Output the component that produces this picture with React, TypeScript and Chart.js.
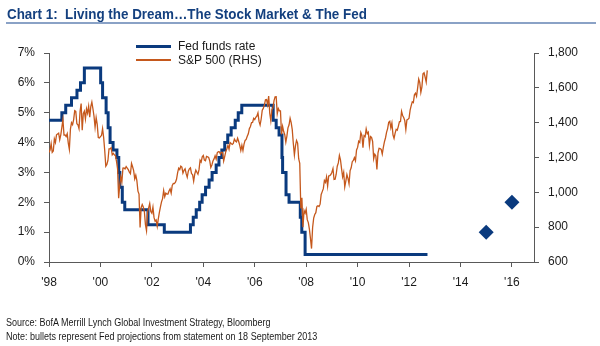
import React, { useEffect, useRef } from 'react';
import { Chart, registerables } from 'chart.js';

Chart.register(...registerables);

// X axis: months since Jan 1999 (the chart labels this point '98)
const xTickLabels = ["'98", "'00", "'02", "'04", "'06", "'08", "'10", "'12", "'14", "'16"];
const xTickStepMonths = 24;
const xMaxMonths = 226.3;

// Fed funds target rate: change points (months since Jan 1999) and levels (%)
const fedMonths = [
  0, 6.0, 7.8, 10.5, 13.05, 14.7, 16.5,
  24.1, 25.0, 26.65, 27.6, 28.5, 29.9, 31.7, 32.55, 33.05, 34.2, 35.35,
  46.2, 53.8,
  66.0, 67.3, 68.7, 70.3, 71.45, 73.05, 74.7, 76.1, 78.0, 79.3, 80.65, 82.0, 83.4, 85.0, 86.9, 88.3, 89.95,
  104.6, 106.0, 107.35, 108.7, 109.0, 110.6, 112.0, 117.25, 117.95, 119.5, 176.6,
];
const fedRates = [
  4.75, 5.0, 5.25, 5.5, 5.75, 6.0, 6.5,
  6.0, 5.5, 5.0, 4.5, 4.0, 3.75, 3.5, 3.0, 2.5, 2.0, 1.75,
  1.25, 1.0,
  1.25, 1.5, 1.75, 2.0, 2.25, 2.5, 2.75, 3.0, 3.25, 3.5, 3.75, 4.0, 4.25, 4.5, 4.75, 5.0, 5.25,
  4.75, 4.5, 4.25, 3.5, 3.0, 2.25, 2.0, 1.5, 1.0, 0.25, 0.25,
];

// S&P 500, semi-monthly (mid-month, month-end) from Jan 1999
const spxStartMonth = 0;
const spxStepMonths = 0.5;
const spx = [
  1229,
  1243, 1280, 1230, 1238, 1307, 1286, 1330, 1335, 1340, 1302, 1330, 1373, 1418, 1329, 1330, 1320, 1336, 1283, 1247, 1363, 1400, 1389, 1418, 1469,
  1465, 1394, 1388, 1366, 1465, 1510, 1356, 1452, 1466, 1421, 1480, 1455, 1495, 1431, 1492, 1518, 1480, 1437, 1374, 1429, 1390, 1315, 1312, 1320,
  1326, 1366, 1315, 1240, 1150, 1160, 1183, 1250, 1250, 1256, 1215, 1224, 1215, 1211, 1178, 1134, 966, 1041, 1089, 1060, 1139, 1140, 1134, 1148,
  1139, 1130, 1116, 1107, 1166, 1147, 1125, 1077, 1098, 1067, 1007, 990, 798, 912, 930, 916, 890, 815, 780, 886, 910, 936, 890, 880,
  915, 856, 834, 841, 805, 848, 885, 917, 945, 964, 1010, 975, 995, 990, 990, 1008, 1020, 996, 1040, 1051, 1050, 1058, 1075, 1112,
  1139, 1131, 1150, 1145, 1110, 1126, 1135, 1107, 1087, 1121, 1135, 1141, 1107, 1102, 1064, 1104, 1128, 1115, 1104, 1130, 1184, 1174, 1204, 1212,
  1185, 1181, 1206, 1204, 1200, 1181, 1143, 1157, 1180, 1192, 1210, 1191, 1227, 1234, 1233, 1220, 1230, 1229, 1180, 1207, 1235, 1250, 1270, 1248,
  1286, 1280, 1275, 1281, 1305, 1295, 1290, 1311, 1292, 1270, 1240, 1270, 1240, 1277, 1298, 1304, 1322, 1336, 1366, 1378, 1400, 1401, 1425, 1418,
  1431, 1438, 1456, 1407, 1387, 1421, 1472, 1482, 1502, 1531, 1533, 1503, 1553, 1455, 1411, 1474, 1484, 1527, 1548, 1549, 1451, 1481, 1468, 1468,
  1333, 1379, 1349, 1331, 1288, 1323, 1370, 1386, 1425, 1400, 1360, 1280, 1214, 1267, 1298, 1283, 1193, 1166, 907, 969, 800, 896, 880, 903,
  843, 826, 789, 735, 677, 798, 852, 873, 883, 919, 923, 919, 932, 988, 1004, 1021, 1068, 1057, 1088, 1036, 1094, 1096, 1102, 1115,
  1136, 1074, 1075, 1104, 1150, 1169, 1212, 1187, 1136, 1089, 1115, 1031, 1064, 1102, 1080, 1049, 1125, 1141, 1176, 1183, 1199, 1181, 1243, 1258,
  1293, 1286, 1343, 1327, 1257, 1326, 1320, 1364, 1337, 1345, 1270, 1321, 1316, 1292, 1193, 1219, 1209, 1131, 1225, 1253, 1251, 1247, 1220, 1258,
  1290, 1312, 1344, 1366, 1402, 1408, 1370, 1398, 1330, 1310, 1340, 1362, 1357, 1379, 1405, 1407, 1465, 1441, 1430, 1412, 1360, 1416, 1420, 1426,
  1472, 1498, 1520, 1515, 1560, 1569, 1552, 1598, 1650, 1631, 1574, 1606, 1680, 1686, 1661, 1633, 1700,
];

// Fed projections (Sept 2013 statement): end-2015 and end-2016
const projMonths = [204, 216];
const projRates = [1.0, 2.0];

const NAVY = '#0a3a7e';
const ORANGE = '#c5581c';
const AXIS = '#595959';
const TEXT = '#1a1a1a';
const FONT = 'Arial, "Liberation Sans", sans-serif';

export default function App() {
  const ref = useRef<HTMLCanvasElement>(null);

  useEffect(() => {
    document.body.style.margin = '0';
    const canvas = ref.current;
    if (!canvas) return;
    const fedData = fedMonths.map((m, i) => ({ x: m, y: fedRates[i] }));
    const spxData = spx.map((v, i) => ({ x: spxStartMonth + i * spxStepMonths, y: v }));
    const projData = projMonths.map((m, i) => ({ x: m, y: projRates[i] }));

    const chart = new Chart(canvas, {
      type: 'line',
      data: {
        datasets: [
          {
            label: 'Fed funds rate',
            data: fedData,
            yAxisID: 'y',
            borderColor: NAVY,
            borderWidth: 3,
            pointRadius: 0,
            stepped: true,
            fill: false,
            order: 2,
          },
          {
            label: 'S&P 500 (RHS)',
            data: spxData,
            yAxisID: 'y2',
            borderColor: ORANGE,
            borderWidth: 1.3,
            pointRadius: 0,
            tension: 0,
            fill: false,
            order: 1,
          },
          {
            label: 'Fed projections',
            data: projData,
            yAxisID: 'y',
            showLine: false,
            pointStyle: 'rectRot',
            pointRadius: 7.5,
            pointBackgroundColor: NAVY,
            pointBorderColor: NAVY,
            pointBorderWidth: 0,
            order: 0,
          },
        ],
      },
      options: {
        responsive: false,
        animation: false,
        events: [],
        layout: { padding: { top: 53, bottom: 54, left: 0, right: 0 } },
        plugins: {
          legend: { display: false },
          tooltip: { enabled: false },
          title: { display: false },
        },
        scales: {
          x: {
            type: 'linear',
            position: 'bottom',
            min: 0,
            max: xMaxMonths,
            afterFit: (s: any) => { s.height = 30; },
            ticks: {
              stepSize: xTickStepMonths,
              includeBounds: false,
              autoSkip: false,
              maxRotation: 0,
              padding: 8,
              color: TEXT,
              font: { family: FONT, size: 12 },
              callback: (v: any) => {
                const idx = Math.round(Number(v) / xTickStepMonths);
                return xTickLabels[idx] ?? '';
              },
            },
            grid: { drawOnChartArea: false, drawTicks: true, tickLength: 5, color: AXIS },
            border: { display: true, color: AXIS, width: 1 },
          },
          y: {
            type: 'linear',
            position: 'left',
            min: 0,
            max: 7,
            afterFit: (s: any) => { s.width = 49; },
            ticks: {
              stepSize: 1,
              padding: 9,
              color: TEXT,
              font: { family: FONT, size: 12 },
              callback: (v: any) => `${v}%`,
            },
            grid: { drawOnChartArea: false, drawTicks: true, tickLength: 5, color: AXIS },
            border: { display: true, color: AXIS, width: 1 },
          },
          y2: {
            type: 'linear',
            position: 'right',
            min: 600,
            max: 1800,
            afterFit: (s: any) => { s.width = 66; },
            ticks: {
              stepSize: 200,
              padding: 9,
              color: TEXT,
              font: { family: FONT, size: 12 },
              callback: (v: any) => Number(v).toLocaleString('en-US'),
            },
            grid: { drawOnChartArea: false, drawTicks: true, tickLength: 5, color: AXIS },
            border: { display: true, color: AXIS, width: 1 },
          },
        },
      },
    });
    return () => chart.destroy();
  }, []);

  const abs = (o: React.CSSProperties): React.CSSProperties => ({ position: 'absolute', ...o });

  return (
    <div style={{ position: 'relative', width: 600, height: 346, background: '#fff', overflow: 'hidden', fontFamily: FONT }}>
      <canvas ref={ref} width={600} height={346} style={abs({ left: 0, top: 0 })} />
      <div
        style={abs({
          left: 7, top: 5.5, fontFamily: FONT,
          fontWeight: 'bold', fontSize: 15.5, lineHeight: '16px', color: '#14407f', whiteSpace: 'pre',
          transform: 'scaleX(0.865)', transformOrigin: 'left top',
        })}
      >
        {'Chart 1:  Living the Dream…The Stock Market & The Fed'}
      </div>
      <div style={abs({ left: 6, top: 22, width: 590, height: 2, background: '#8aa2c6' })} />

      <div style={abs({ left: 136, top: 45.2, width: 35, height: 3, background: NAVY })} />
      <div style={abs({ left: 178, top: 38.8, fontSize: 12, lineHeight: '14px', color: TEXT, whiteSpace: 'nowrap' })}>Fed funds rate</div>
      <div style={abs({ left: 136, top: 59.3, width: 35, height: 1.5, background: ORANGE })} />
      <div style={abs({ left: 178, top: 53.3, fontSize: 12, lineHeight: '14px', color: TEXT, whiteSpace: 'nowrap' })}>S&amp;P 500 (RHS)</div>

      <div style={abs({ left: 6, top: 316.5, fontSize: 10, lineHeight: '12px', color: TEXT, whiteSpace: 'nowrap', transform: 'scaleX(0.9)', transformOrigin: 'left top' })}>
        Source: BofA Merrill Lynch Global Investment Strategy, Bloomberg
      </div>
      <div style={abs({ left: 6, top: 331, fontSize: 10, lineHeight: '12px', color: TEXT, whiteSpace: 'nowrap', transform: 'scaleX(0.9)', transformOrigin: 'left top' })}>
        Note: bullets represent Fed projections from statement on 18 September 2013
      </div>
    </div>
  );
}
